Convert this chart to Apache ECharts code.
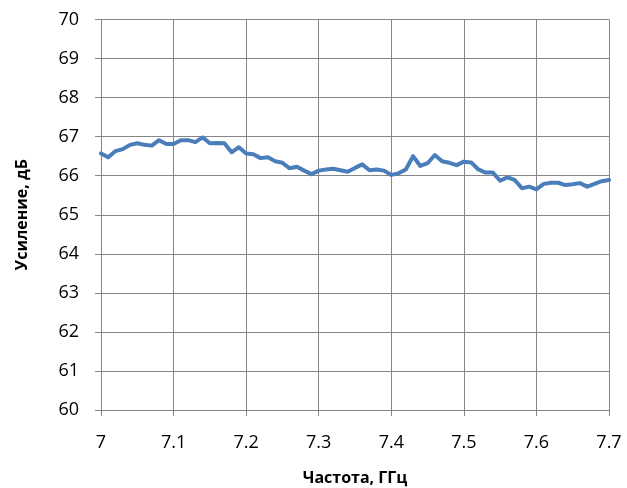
<!DOCTYPE html>
<html><head><meta charset="utf-8">
<script src="https://cdn.jsdelivr.net/npm/echarts@6/dist/echarts.min.js"></script>
<style>html,body{margin:0;padding:0;background:#fff}#c{width:627px;height:488px}</style>
</head><body><div id="c"></div>
<script>
var freqs = [7.00,7.01,7.02,7.03,7.04,7.05,7.06,7.07,7.08,7.09,
             7.10,7.11,7.12,7.13,7.14,7.15,7.16,7.17,7.18,7.19,
             7.20,7.21,7.22,7.23,7.24,7.25,7.26,7.27,7.28,7.29,
             7.30,7.31,7.32,7.33,7.34,7.35,7.36,7.37,7.38,7.39,
             7.40,7.41,7.42,7.43,7.44,7.45,7.46,7.47,7.48,7.49,
             7.50,7.51,7.52,7.53,7.54,7.55,7.56,7.57,7.58,7.59,
             7.60,7.61,7.62,7.63,7.64,7.65,7.66,7.67,7.68,7.69,7.70];
var gain = [66.57,66.47,66.63,66.68,66.79,66.83,66.79,66.77,66.91,66.81,
            66.81,66.91,66.91,66.86,66.98,66.83,66.84,66.83,66.60,66.73,
            66.57,66.55,66.45,66.47,66.37,66.33,66.19,66.23,66.13,66.04,
            66.13,66.16,66.18,66.14,66.10,66.20,66.29,66.14,66.16,66.13,
            66.02,66.06,66.16,66.50,66.25,66.32,66.53,66.37,66.33,66.27,
            66.36,66.34,66.16,66.08,66.08,65.87,65.96,65.89,65.68,65.72,
            65.65,65.79,65.82,65.82,65.76,65.78,65.81,65.72,65.79,65.86,65.89];
var xTitle = 'Частота, ГГц';
var yTitle = 'Усиление, дБ';

var data = freqs.map(function(f, i){ return [f, gain[i]]; });
var font = 'Open Sans, Liberation Sans, sans-serif';
var chart = echarts.init(document.getElementById('c'), null, {renderer:'canvas'});
chart.setOption({
  animation:false,
  backgroundColor:'#ffffff',
  grid:{left:101, right:18, top:19.5, bottom:78, containLabel:false, outerBoundsMode:'none'},
  xAxis:{
    type:'value', min:7, max:7.7, interval:0.1,
    name:xTitle, nameLocation:'middle', nameGap:60,
    nameTextStyle:{fontFamily:font, fontWeight:'bold', fontSize:16, color:'#000'},
    axisLine:{show:true, lineStyle:{color:'#868686', width:1}},
    axisTick:{show:true, length:6, lineStyle:{color:'#868686'}},
    axisLabel:{fontFamily:font, fontSize:18, color:'#000', margin:24,
      formatter:function(v){ return String(parseFloat(v.toFixed(1))); }},
    splitLine:{show:true, lineStyle:{color:'#868686', width:1}}
  },
  yAxis:{
    type:'value', min:60, max:70, interval:1,
    name:yTitle, nameLocation:'middle', nameGap:71, nameRotate:90,
    nameTextStyle:{fontFamily:font, fontWeight:'bold', fontSize:16, color:'#000'},
    axisLine:{show:true, lineStyle:{color:'#868686', width:1}},
    axisTick:{show:true, length:6, lineStyle:{color:'#868686'}},
    axisLabel:{fontFamily:font, fontSize:18, color:'#000', margin:22},
    splitLine:{show:true, lineStyle:{color:'#868686', width:1}}
  },
  series:[{
    type:'line', data:data, showSymbol:false, symbol:'none',
    lineStyle:{color:'#4A7EBB', width:4, join:'round', cap:'round'},
    itemStyle:{color:'#4A7EBB'}
  }]
});
</script>
</body></html>
